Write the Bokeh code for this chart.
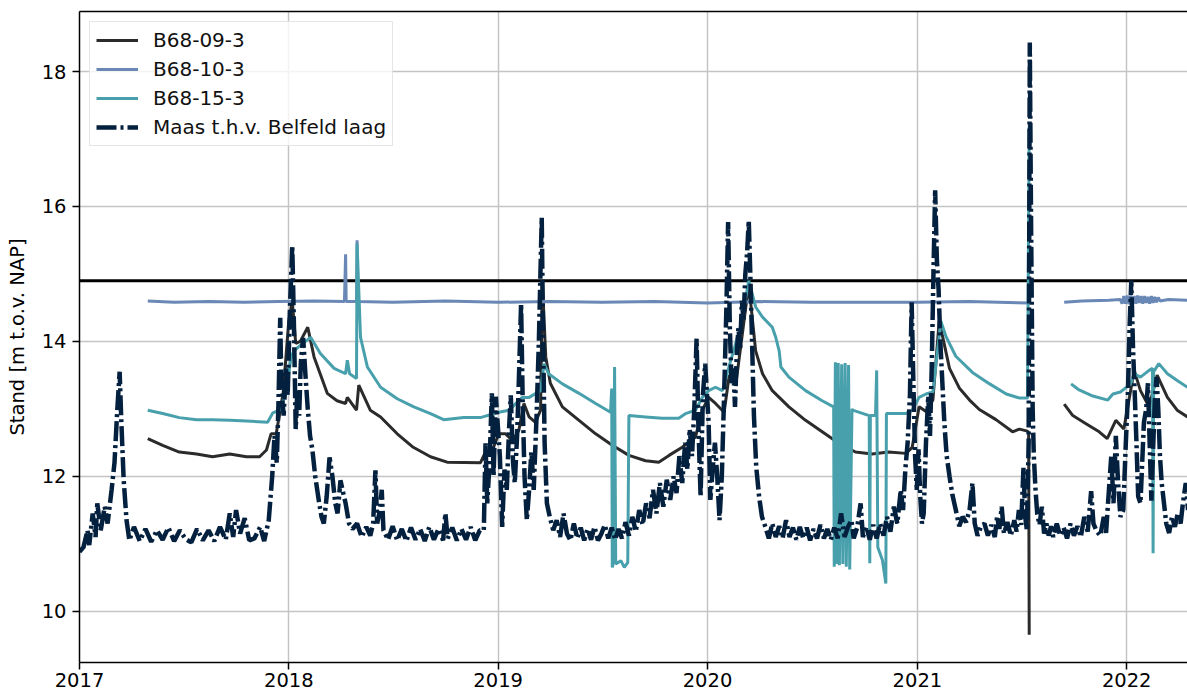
import pandas as pd
from bokeh.plotting import figure
from bokeh.models import Range1d, FixedTicker, DatetimeTickFormatter, Span, LinearAxis
from bokeh.embed import file_html
from bokeh.resources import INLINE

NaN = float("nan")

# ---------------- data ----------------
maas_dates = [
    "2017-01-01", "2017-01-08", "2017-01-15", "2017-01-18", "2017-01-24", "2017-01-29", "2017-02-01", "2017-02-07",
    "2017-02-14", "2017-02-19", "2017-02-26", "2017-03-03", "2017-03-08", "2017-03-12", "2017-03-15", "2017-03-19",
    "2017-03-24", "2017-03-29", "2017-04-06", "2017-04-16", "2017-04-26", "2017-05-06", "2017-05-16", "2017-05-26",
    "2017-06-05", "2017-06-15", "2017-06-25", "2017-07-05", "2017-07-15", "2017-07-25", "2017-08-04", "2017-08-14",
    "2017-08-24", "2017-09-03", "2017-09-13", "2017-09-20", "2017-09-26", "2017-10-01", "2017-10-08", "2017-10-16",
    "2017-10-24", "2017-11-02", "2017-11-12", "2017-11-19", "2017-11-27", "2017-12-03", "2017-12-07", "2017-12-11",
    "2017-12-14", "2017-12-17", "2017-12-19", "2017-12-23", "2017-12-27", "2017-12-30",
    "2018-01-03", "2018-01-07", "2018-01-10", "2018-01-13", "2018-01-16", "2018-01-19", "2018-01-22", "2018-01-26",
    "2018-01-30", "2018-02-03", "2018-02-07", "2018-02-11", "2018-02-16", "2018-02-23", "2018-02-27", "2018-03-03",
    "2018-03-08", "2018-03-13", "2018-03-18", "2018-03-23", "2018-03-27", "2018-04-01", "2018-04-06", "2018-04-10",
    "2018-04-16", "2018-04-22", "2018-04-30", "2018-05-08", "2018-05-16", "2018-05-23", "2018-05-28", "2018-06-01",
    "2018-06-04", "2018-06-09", "2018-06-12", "2018-06-15", "2018-06-23", "2018-07-01", "2018-07-09", "2018-07-17",
    "2018-07-25", "2018-08-02", "2018-08-10", "2018-08-18", "2018-08-26", "2018-09-03", "2018-09-11", "2018-09-19",
    "2018-09-27", "2018-10-01", "2018-10-05", "2018-10-13", "2018-10-21", "2018-10-29", "2018-11-06", "2018-11-14",
    "2018-11-22", "2018-11-30", "2018-12-07", "2018-12-10", "2018-12-13", "2018-12-17", "2018-12-21", "2018-12-24",
    "2018-12-28",
    "2019-01-04", "2019-01-08", "2019-01-12", "2019-01-16", "2019-01-20", "2019-01-23", "2019-01-27", "2019-01-30",
    "2019-02-03", "2019-02-06", "2019-02-10", "2019-02-13", "2019-02-16", "2019-02-20", "2019-02-24", "2019-02-28",
    "2019-03-04", "2019-03-09", "2019-03-13", "2019-03-18", "2019-03-20", "2019-03-23", "2019-03-27", "2019-04-01",
    "2019-04-07", "2019-04-13", "2019-04-19", "2019-04-25", "2019-05-01", "2019-05-07", "2019-05-13", "2019-05-19",
    "2019-05-25", "2019-05-31", "2019-06-06", "2019-06-12", "2019-06-18", "2019-06-24", "2019-06-30", "2019-07-06",
    "2019-07-12", "2019-07-18", "2019-07-24", "2019-07-30", "2019-08-05", "2019-08-11", "2019-08-17", "2019-08-23",
    "2019-08-29", "2019-09-04", "2019-09-10", "2019-09-16", "2019-09-22", "2019-09-28", "2019-10-04", "2019-10-10",
    "2019-10-16", "2019-10-22", "2019-10-28", "2019-11-03", "2019-11-08", "2019-11-13", "2019-11-18", "2019-11-23",
    "2019-11-27", "2019-12-01", "2019-12-05", "2019-12-09", "2019-12-13", "2019-12-16", "2019-12-20", "2019-12-24",
    "2019-12-28",
    "2020-01-03", "2020-01-06", "2020-01-10", "2020-01-14", "2020-01-18", "2020-01-22", "2020-01-26", "2020-01-30",
    "2020-02-03", "2020-02-06", "2020-02-09", "2020-02-12", "2020-02-15", "2020-02-18", "2020-02-21", "2020-02-24",
    "2020-02-27", "2020-03-01", "2020-03-04", "2020-03-07", "2020-03-10", "2020-03-13", "2020-03-16", "2020-03-19",
    "2020-03-22", "2020-03-26", "2020-03-31", "2020-04-05", "2020-04-11", "2020-04-17", "2020-04-23", "2020-04-29",
    "2020-05-05", "2020-05-11", "2020-05-17", "2020-05-23", "2020-05-29", "2020-06-04", "2020-06-10", "2020-06-16",
    "2020-06-22", "2020-06-28", "2020-07-04", "2020-07-10", "2020-07-16", "2020-07-22", "2020-07-28", "2020-08-03",
    "2020-08-09", "2020-08-15", "2020-08-21", "2020-08-27", "2020-09-02", "2020-09-08", "2020-09-12", "2020-09-18",
    "2020-09-24", "2020-09-28", "2020-10-04", "2020-10-10", "2020-10-16", "2020-10-22", "2020-10-28", "2020-11-03",
    "2020-11-09", "2020-11-15", "2020-11-21", "2020-11-27", "2020-12-03", "2020-12-07", "2020-12-11", "2020-12-15",
    "2020-12-19", "2020-12-22", "2020-12-25", "2020-12-28", "2020-12-31",
    "2021-01-03", "2021-01-06", "2021-01-09", "2021-01-12", "2021-01-16", "2021-01-20", "2021-01-23", "2021-01-26",
    "2021-01-29", "2021-02-01", "2021-02-04", "2021-02-07", "2021-02-10", "2021-02-13", "2021-02-17", "2021-02-21",
    "2021-02-26", "2021-03-03", "2021-03-09", "2021-03-15", "2021-03-21", "2021-03-27", "2021-04-02", "2021-04-07",
    "2021-04-11", "2021-04-16", "2021-04-22", "2021-04-28", "2021-05-04", "2021-05-10", "2021-05-16", "2021-05-20",
    "2021-05-24", "2021-05-28", "2021-06-01", "2021-06-07", "2021-06-13", "2021-06-19", "2021-06-23", "2021-06-27",
    "2021-07-01", "2021-07-05", "2021-07-08", "2021-07-11", "2021-07-14", "2021-07-16", "2021-07-18", "2021-07-21",
    "2021-07-23", "2021-07-26", "2021-07-29", "2021-08-02", "2021-08-06", "2021-08-10", "2021-08-14", "2021-08-18",
    "2021-08-22", "2021-08-26", "2021-09-01", "2021-09-07", "2021-09-13", "2021-09-19", "2021-09-25", "2021-10-01",
    "2021-10-07", "2021-10-13", "2021-10-19", "2021-10-25", "2021-10-31", "2021-11-04", "2021-11-10", "2021-11-16",
    "2021-11-22", "2021-11-26", "2021-12-01", "2021-12-05", "2021-12-09", "2021-12-13", "2021-12-17", "2021-12-21",
    "2021-12-26", "2021-12-30",
    "2022-01-03", "2022-01-06", "2022-01-09", "2022-01-12", "2022-01-15", "2022-01-18", "2022-01-21", "2022-01-25",
    "2022-01-28", "2022-01-31", "2022-02-04", "2022-02-07", "2022-02-10", "2022-02-13", "2022-02-16", "2022-02-19",
    "2022-02-22", "2022-02-25", "2022-02-28", "2022-03-03", "2022-03-07", "2022-03-11", "2022-03-16", "2022-03-21",
    "2022-03-26", "2022-03-31", "2022-04-05", "2022-04-09", "2022-04-14", "2022-04-18",
]
maas_levels = [
    10.88, 10.95, 11.20, 10.98, 11.45, 11.10, 11.60, 11.20,
    11.55, 11.30, 11.80, 12.20, 13.00, 13.55, 12.80, 11.95,
    11.35, 11.05, 11.25, 11.04, 11.22, 11.03, 11.20, 11.06,
    11.24, 11.04, 11.20, 11.07, 11.02, 11.22, 11.05, 11.20,
    11.04, 11.25, 11.06, 11.45, 11.10, 11.50, 11.15, 11.38,
    11.05, 11.08, 11.25, 11.04, 11.35, 12.00, 12.60, 12.20,
    13.10, 14.35, 13.30, 12.90, 13.60, 13.20,
    14.50, 15.42, 14.20, 12.70, 13.30, 12.90, 13.70, 14.05,
    13.50, 13.00, 12.60, 12.40, 12.00, 11.60, 11.40, 11.30,
    11.70, 12.28, 12.00, 11.60, 11.45, 11.94, 11.75, 11.60,
    11.30, 11.22, 11.30, 11.10, 11.25, 11.12, 11.30, 12.09,
    11.30, 11.50, 11.80, 11.20, 11.06, 11.26, 11.05, 11.22,
    11.04, 11.24, 11.06, 11.22, 11.04, 11.25, 11.06, 11.22,
    11.05, 11.45, 11.08, 11.24, 11.05, 11.22, 11.06, 11.25,
    11.05, 11.20, 11.20, 12.49, 11.60, 12.20, 13.23, 12.00,
    13.18,
    12.30, 11.25, 12.10, 11.80, 12.70, 13.20, 12.20, 11.90,
    12.60, 13.40, 14.56, 13.00, 12.00, 11.35, 11.80, 12.38,
    11.80, 12.90, 14.00, 15.84, 14.30, 12.50, 11.60, 11.40,
    11.20, 11.35, 11.10, 11.45, 11.15, 11.05, 11.30, 11.08,
    11.24, 11.05, 11.22, 11.06, 11.25, 11.05, 11.15, 11.28,
    11.08, 11.24, 11.06, 11.22, 11.08, 11.32, 11.12, 11.40,
    11.18, 11.50, 11.28, 11.60, 11.38, 11.80, 11.45, 11.90,
    11.55, 11.95, 11.65, 12.00, 11.75, 12.30, 11.90, 12.50,
    12.10, 12.70, 12.30, 13.00, 14.04, 12.80, 11.70, 13.20,
    13.67,
    12.80, 11.65, 12.10, 12.50, 12.00, 11.35, 12.00, 13.20,
    14.50, 15.77, 14.20, 13.38, 13.60, 13.03, 13.80, 14.20,
    13.90, 14.60, 14.30, 15.00, 15.30, 15.79, 14.90, 13.90,
    12.90, 12.14, 11.70, 11.40, 11.25, 11.08, 11.30, 11.10,
    11.26, 11.08, 11.35, 11.10, 11.24, 11.06, 11.25, 11.08,
    11.24, 11.05, 11.22, 11.08, 11.28, 11.08, 11.22, 11.06,
    11.24, 11.08, 11.45, 11.10, 11.25, 11.35, 11.08, 11.24,
    11.60, 11.10, 11.25, 11.06, 11.28, 11.08, 11.30, 11.12,
    11.40, 11.18, 11.55, 11.30, 11.80, 11.50, 12.10, 12.50,
    13.20, 14.58, 13.40, 12.30, 11.80,
    12.40, 11.70, 11.30, 11.45, 12.50, 13.19, 12.60, 13.60,
    15.00, 16.24, 15.20, 14.77, 14.00, 13.48, 12.80, 12.31,
    12.00, 11.73, 11.50, 11.26, 11.40, 11.32, 11.50, 11.90,
    11.30, 11.12, 11.26, 11.30, 11.12, 11.28, 11.10, 11.40,
    11.22, 11.55, 11.15, 11.32, 11.12, 11.35, 11.18, 11.50,
    11.28, 12.13, 11.40, 11.20, 12.50, 18.43, 16.00, 13.00,
    12.31, 11.80, 11.44, 11.28, 11.55, 11.15, 11.30, 11.12,
    11.26, 11.10, 11.30, 11.12, 11.24, 11.08, 11.30, 11.12,
    11.26, 11.10, 11.40, 11.18, 11.78, 11.30, 11.18, 11.12,
    11.40, 11.16, 11.80, 12.29, 11.60, 12.60, 11.90, 11.40,
    11.50, 12.40,
    13.20, 14.20, 14.90, 13.90, 13.23, 12.50, 11.70, 11.60,
    12.20, 12.80, 13.00, 13.38, 12.50, 11.64, 12.40, 13.10,
    13.47, 13.00, 12.30, 11.90, 11.60, 11.30, 11.16, 11.40,
    11.25, 11.45, 11.30, 11.60, 11.90, 11.50,
]

b09_dates = [
    "2017-04-30", "2017-05-26", "2017-06-24", "2017-07-24", "2017-08-21", "2017-09-20", "2017-10-19", "2017-11-11",
    "2017-11-23", "2017-12-01", "2017-12-10", "2017-12-22", "2018-01-01", "2018-01-07", "2018-01-13", "2018-01-21",
    "2018-02-03", "2018-02-14", "2018-03-09", "2018-03-26", "2018-04-10", "2018-04-13", "2018-04-29", "2018-05-03",
    "2018-05-23", "2018-06-10", "2018-07-09", "2018-08-06", "2018-09-05", "2018-10-04", "2018-12-01", "2018-12-10",
    "2018-12-22", "2019-01-02", "2019-01-14", "2019-01-26", "2019-02-06", "2019-02-15", "2019-02-24", "2019-03-07",
    "2019-03-16", "2019-03-19", "2019-03-25", "2019-04-02", "2019-04-23", "2019-05-22", "2019-06-20", "2019-07-19",
    "2019-08-17", "2019-09-15", "2019-10-08", "2019-10-26", "2019-11-18", "2019-12-11", "2019-12-23", "2020-01-03",
    "2020-01-15", "2020-01-30", "2020-02-08", "2020-02-20", "2020-03-13", "2020-03-25", "2020-04-06", "2020-04-23",
    "2020-05-22", "2020-06-20", "2020-07-19", "2020-08-17", "2020-09-15", "2020-10-14", "2020-11-12", "2020-12-12",
    "2020-12-23", "2021-01-04", "2021-01-16", "2021-01-28", "2021-02-08", "2021-02-14", "2021-02-26", "2021-03-15",
    "2021-04-02", "2021-04-19", "2021-05-18", "2021-06-16", "2021-06-28", "2021-07-12", "2021-07-14", "2021-07-15",
    "2021-07-16",
    "2021-09-14", "2021-09-29", "2021-10-22", "2021-11-14", "2021-11-28", "2021-12-13", "2021-12-27", "2022-01-14",
    "2022-01-25", "2022-02-09", "2022-02-23", "2022-03-13", "2022-03-30", "2022-04-17",
]
b09_levels = [
    12.56, 12.46, 12.36, 12.33, 12.29, 12.33, 12.29, 12.29,
    12.39, 12.63, 12.63, 13.23, 14.31, 14.60, 13.97, 14.00,
    14.21, 13.77, 13.23, 13.12, 13.08, 13.17, 12.98, 13.35,
    12.98, 12.88, 12.63, 12.43, 12.29, 12.21, 12.20, 12.36,
    12.39, 12.63, 12.63, 12.53, 12.68, 13.08, 12.88, 12.80,
    12.98, 14.90, 13.77, 13.38, 13.03, 12.83, 12.63, 12.46,
    12.31, 12.23, 12.21, 12.31, 12.43, 12.58, 12.98, 13.17,
    13.08, 12.95, 13.50, 13.40, 14.85, 13.86, 13.52, 13.27,
    13.03, 12.83, 12.66, 12.49, 12.36, 12.33, 12.36, 12.34,
    12.43, 13.03, 12.96, 13.13, 14.30, 14.07, 13.60, 13.31,
    13.13, 12.99, 12.84, 12.66, 12.70, 12.67, 12.65, 9.65,
    NaN,
    13.07, 12.90, 12.78, 12.66, 12.56, 12.83, 12.70, 13.57,
    13.27, 13.03, 13.50, 13.17, 12.98, 12.88,
]

b10_dates = [
    "2017-04-30", "2017-06-15", "2017-08-15", "2017-10-15", "2017-12-15", "2018-02-15", "2018-04-08", "2018-04-10",
    "2018-04-11", "2018-04-29", "2018-04-30", "2018-05-01", "2018-07-01", "2018-10-01", "2019-01-01", "2019-04-01",
    "2019-07-01", "2019-10-01", "2020-01-01", "2020-04-01", "2020-07-01", "2020-10-01", "2021-01-01", "2021-04-01",
    "2021-07-14", "2021-07-15",
    "2021-09-14", "2021-10-15", "2021-12-01", "2021-12-21", "2021-12-24", "2021-12-27", "2021-12-30", "2022-01-02",
    "2022-01-05", "2022-01-08", "2022-01-11", "2022-01-14", "2022-01-17", "2022-01-20", "2022-01-23", "2022-01-26",
    "2022-01-29", "2022-02-01", "2022-02-04", "2022-02-07", "2022-02-10", "2022-02-13", "2022-02-16", "2022-02-19",
    "2022-02-22", "2022-02-25", "2022-02-28", "2022-03-15", "2022-04-17",
]
b10_levels = [
    14.60, 14.58, 14.59, 14.58, 14.59, 14.60, 14.59, 15.29,
    14.59, 14.59, 15.50, 14.59, 14.58, 14.60, 14.58, 14.59,
    14.58, 14.59, 14.57, 14.59, 14.58, 14.58, 14.58, 14.59,
    14.57, NaN,
    14.58, 14.60, 14.61, 14.62, 14.56, 14.67, 14.56, 14.68,
    14.55, 14.68, 14.56, 14.67, 14.56, 14.68, 14.57, 14.67,
    14.56, 14.67, 14.57, 14.66, 14.56, 14.67, 14.57, 14.66,
    14.58, 14.65, 14.60, 14.62, 14.61,
]

b15_dates = [
    "2017-04-30", "2017-05-26", "2017-06-24", "2017-07-24", "2017-08-21", "2017-09-20", "2017-10-19", "2017-11-25",
    "2017-12-04", "2017-12-16", "2017-12-27", "2018-01-05", "2018-01-10", "2018-01-21", "2018-02-08", "2018-02-25",
    "2018-03-21", "2018-04-10", "2018-04-13", "2018-04-17", "2018-04-29", "2018-04-30", "2018-05-06", "2018-05-18",
    "2018-06-10", "2018-07-09", "2018-08-07", "2018-09-05", "2018-09-28", "2018-11-02", "2018-12-01", "2019-01-02",
    "2019-01-20", "2019-02-12", "2019-02-24", "2019-03-16", "2019-03-22", "2019-03-30", "2019-04-23", "2019-05-22",
    "2019-06-20", "2019-07-16", "2019-07-18", "2019-07-19", "2019-07-21", "2019-07-23", "2019-07-25", "2019-08-03",
    "2019-08-09", "2019-08-15", "2019-08-17", "2019-09-15", "2019-10-14", "2019-11-12", "2019-11-24", "2019-12-11",
    "2019-12-23", "2020-01-03", "2020-01-15", "2020-01-27", "2020-02-10", "2020-02-27", "2020-03-13", "2020-03-25",
    "2020-04-06", "2020-04-23", "2020-04-29", "2020-05-05", "2020-05-08", "2020-05-22", "2020-06-20", "2020-07-19",
    "2020-08-08", "2020-08-09", "2020-08-11", "2020-08-13", "2020-08-16", "2020-08-18", "2020-08-22", "2020-08-24",
    "2020-08-28", "2020-08-30", "2020-09-03", "2020-09-05", "2020-09-09", "2020-09-10", "2020-10-09", "2020-10-10",
    "2020-10-11", "2020-10-20", "2020-10-22", "2020-10-24", "2020-11-01", "2020-11-07", "2020-11-08", "2020-12-12",
    "2020-12-23", "2021-01-04", "2021-01-16", "2021-01-28", "2021-02-11", "2021-02-20", "2021-03-09", "2021-04-07",
    "2021-05-07", "2021-06-05", "2021-06-28", "2021-07-12", "2021-07-15", "2021-07-16",
    "2021-09-26", "2021-10-10", "2021-11-03", "2021-11-29", "2021-12-08", "2021-12-21", "2022-01-08", "2022-01-14",
    "2022-01-25", "2022-02-09", "2022-02-15", "2022-02-16", "2022-02-17", "2022-02-26", "2022-03-13", "2022-03-30",
    "2022-04-17",
]
b15_levels = [
    12.98, 12.93, 12.87, 12.84, 12.84, 12.83, 12.82, 12.80,
    12.94, 12.98, 13.23, 13.77, 13.86, 13.94, 14.06, 13.82,
    13.60, 13.52, 13.72, 13.52, 13.45, 15.45, 14.06, 13.62,
    13.32, 13.15, 13.03, 12.93, 12.84, 12.87, 12.87, 12.95,
    12.98, 13.17, 13.17, 13.27, 13.67, 13.52, 13.37, 13.23,
    13.08, 12.95, 13.30, 10.65, 10.72, 13.62, 10.70, 10.75,
    10.65, 10.72, 12.90, 12.88, 12.86, 12.86, 12.93, 12.98,
    13.17, 13.27, 13.32, 13.27, 13.70, 14.20, 14.90, 14.51,
    14.36, 14.21, 14.06, 13.86, 13.62, 13.47, 13.27, 13.12,
    13.03, 10.66, 13.69, 10.70, 13.68, 10.68, 13.66, 10.70,
    13.68, 10.66, 13.65, 10.62, 13.00, 12.98, 12.90, 10.71,
    12.90, 12.90, 13.57, 10.95, 10.76, 10.41, 12.93, 12.93,
    12.98, 13.17, 13.22, 13.25, 14.30, 14.07, 13.78, 13.54,
    13.37, 13.22, 13.16, 13.16, 17.20, NaN,
    13.37, 13.28, 13.19, 13.13, 13.22, 13.25, 13.37, 13.52,
    13.47, 13.57, 13.60, 10.86, 13.55, 13.67, 13.52, 13.42,
    13.32,
]

series_names = ["B68-09-3", "B68-10-3", "B68-15-3", "Maas t.h.v. Belfeld laag"]
threshold = 14.9
year_ticks = [2017, 2018, 2019, 2020, 2021, 2022]
y_ticks = [10, 12, 14, 16, 18]
x_start, x_end = "2017-01-01", "2022-04-17"
y_start, y_end = 9.24, 18.89

# ---------------- figure ----------------
FONT = "DejaVu Sans"
FS = "19.5px"
LEGEND_FS = "20px"

p = figure(width=1187, height=695, x_axis_type="datetime",
           x_range=Range1d(pd.Timestamp(x_start), pd.Timestamp(x_end)),
           y_range=Range1d(y_start, y_end),
           output_backend="svg", toolbar_location=None,
           min_border_left=79, min_border_right=0, min_border_top=11, min_border_bottom=33)
p.outline_line_color = None
p.background_fill_color = "white"

p.line(pd.to_datetime(b09_dates), b09_levels, line_color="#2b2b2b", line_width=3, legend_label=series_names[0])
p.line(pd.to_datetime(b10_dates), b10_levels, line_color="#6a88b5", line_width=3, legend_label=series_names[1])
p.line(pd.to_datetime(b15_dates), b15_levels, line_color="#48a0ac", line_width=3, legend_label=series_names[2])
p.line(pd.to_datetime(maas_dates), maas_levels, line_color="#04203f", line_width=4.5,
       line_dash="20 4 3 4", legend_label=series_names[3])

p.add_layout(Span(location=threshold, dimension="width", line_color="black", line_width=3, level="underlay"))

# axes
p.xaxis.ticker = FixedTicker(ticks=[pd.Timestamp(f"{y}-01-01").value / 1e6 for y in year_ticks])
p.xaxis.formatter = DatetimeTickFormatter(years="%Y", months="%Y", days="%Y", hours="%Y")
p.yaxis.ticker = FixedTicker(ticks=y_ticks)
p.yaxis.axis_label = "Stand [m t.o.v. NAP]"
p.yaxis.axis_label_text_font = FONT
p.yaxis.axis_label_text_font_size = FS
p.yaxis.axis_label_text_font_style = "normal"
p.yaxis.axis_label_text_color = "black"
p.yaxis.axis_label_standoff = 10
for ax in (p.xaxis, p.yaxis):
    ax.major_label_text_font = FONT
    ax.major_label_text_font_size = FS
    ax.major_label_text_color = "black"
    ax.axis_line_color = "black"
    ax.axis_line_width = 1.5
    ax.major_tick_line_color = "black"
    ax.major_tick_line_width = 1.5
    ax.major_tick_out = 7
    ax.major_tick_in = 0
    ax.minor_tick_line_color = None
p.xaxis.major_label_standoff = 3
p.yaxis.major_label_standoff = 6

top_axis = LinearAxis(ticker=FixedTicker(ticks=[]), axis_line_color="black", axis_line_width=1.5,
                      major_tick_line_color=None, minor_tick_line_color=None)
p.add_layout(top_axis, "above")

p.xgrid.grid_line_color = "#c4c4c4"
p.ygrid.grid_line_color = "#c4c4c4"
p.xgrid.grid_line_width = 1.5
p.ygrid.grid_line_width = 1.5

lg = p.legend[0]
lg.location = "top_left"
lg.margin = 10
lg.padding = 6
lg.spacing = 5
lg.glyph_width = 42
lg.glyph_height = 20
lg.label_standoff = 15
lg.label_text_font = FONT
lg.label_text_font_size = LEGEND_FS
lg.label_text_color = "#111111"
lg.border_line_color = "#cccccc"
lg.border_line_width = 1.2
lg.background_fill_color = "white"
lg.background_fill_alpha = 0.8

open("out.html", "w").write(file_html(p, INLINE))
